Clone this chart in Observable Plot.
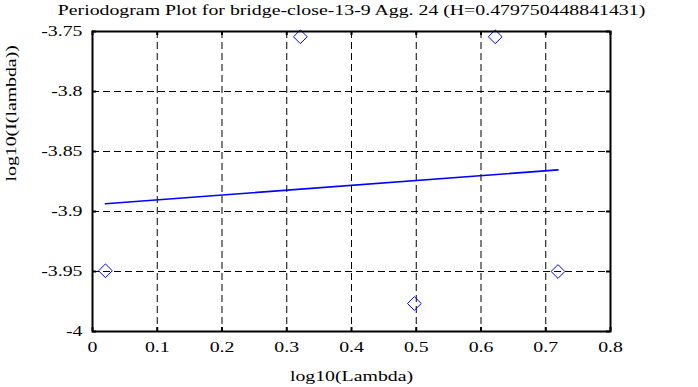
<!DOCTYPE html>
<html>
<head>
<meta charset="utf-8">
<script src="https://cdn.jsdelivr.net/npm/d3@7"></script>
<script src="https://cdn.jsdelivr.net/npm/@observablehq/plot@0.6"></script>
<style>
  html, body { margin: 0; padding: 0; background: #fff; }
  svg text { font-family: "Liberation Serif", "Times New Roman", serif; }
</style>
</head>
<body>
<div id="chart"></div>
<script>
// ---- data ----
const titleText = "Periodogram Plot for bridge-close-13-9 Agg. 24 (H=0.479750448841431)";
const xLabel = "log10(Lambda)";
const yLabel = "log10(I(lambda))";

const pointX = [0.0200, 0.3210, 0.4971, 0.6220, 0.7189];
const pointY = [-3.9494, -3.7544, -3.9767, -3.7544, -3.9500];

const fitX = [0.0200, 0.7189];
const fitY = [-3.8936, -3.8653];

const xTicks = [0, 0.1, 0.2, 0.3, 0.4, 0.5, 0.6, 0.7, 0.8];
const xTickLabels = ["0", "0.1", "0.2", "0.3", "0.4", "0.5", "0.6", "0.7", "0.8"];
const yTicks = [-3.75, -3.8, -3.85, -3.9, -3.95, -4];
const yTickLabels = ["-3.75", "-3.8", "-3.85", "-3.9", "-3.95", "-4"];

const xDomain = [0, 0.8];
const yDomain = [-4, -3.75];

// ---- layout ----
const W = 698, H = 387;
const mLeft = 92, mRight = 88, mTop = 31, mBottom = 56;
const plotW = W - mLeft - mRight, plotH = H - mTop - mBottom;

const points = pointX.map((x, i) => ({x, y: pointY[i]}));
const fit = fitX.map((x, i) => ({x, y: fitY[i]}));

const chart = Plot.plot({
  width: W,
  height: H,
  marginLeft: mLeft,
  marginRight: mRight,
  marginTop: mTop,
  marginBottom: mBottom,
  style: {fontFamily: "Liberation Serif", fontSize: "15px", color: "black", background: "white"},
  x: {domain: xDomain},
  y: {domain: yDomain},
  marks: [
    Plot.gridX(xTicks, {stroke: "black", strokeOpacity: 1, strokeWidth: 1, strokeDasharray: "7,4"}),
    Plot.gridY(yTicks, {stroke: "black", strokeOpacity: 1, strokeWidth: 1, strokeDasharray: "7,4"}),
    // inward ticks on all four sides
    Plot.tickX(xTicks, {x: d => d, insetBottom: plotH - 4, stroke: "black", strokeWidth: 2}),
    Plot.tickX(xTicks, {x: d => d, insetTop: plotH - 4, stroke: "black", strokeWidth: 2}),
    Plot.tickY(yTicks, {y: d => d, insetRight: plotW - 4, stroke: "black", strokeWidth: 2}),
    Plot.tickY(yTicks, {y: d => d, insetLeft: plotW - 4, stroke: "black", strokeWidth: 2}),
    Plot.axisX(xTicks, {anchor: "bottom", tickSize: 0, tickPadding: 10, label: null,
      tickFormat: (d, i) => xTickLabels[i], fontSize: 15, fill: "black"}),
    Plot.axisY(yTicks, {anchor: "left", tickSize: 0, tickPadding: 10, label: null,
      tickFormat: (d, i) => yTickLabels[i], fontSize: 15, fill: "black"}),
    Plot.line(fit, {x: "x", y: "y", stroke: "#0000ff", strokeWidth: 1.6}),
    Plot.dot(points, {x: "x", y: "y", symbol: "diamond2", r: 6.2, stroke: "#0000ff", strokeWidth: 1, fill: "none"}),
    Plot.frame({stroke: "black", strokeWidth: 2}),
    Plot.text([titleText], {frameAnchor: "top", lineAnchor: "middle", dy: -21, fontSize: 15, fill: "black"}),
    Plot.text([xLabel], {frameAnchor: "bottom", lineAnchor: "middle", dy: 45, fontSize: 15, fill: "black"}),
    Plot.text([yLabel], {frameAnchor: "left", dx: -81, rotate: -90, fontSize: 15, fill: "black"})
  ]
});

document.getElementById("chart").appendChild(chart);

// widen glyphs horizontally to match the reference's wide serif text
const stretch = 1.32;
d3.select(chart).selectAll("text").each(function() {
  const len = this.getComputedTextLength();
  if (len > 0) {
    this.setAttribute("textLength", (len * stretch).toFixed(2));
    this.setAttribute("lengthAdjust", "spacingAndGlyphs");
  }
});
</script>
</body>
</html>
